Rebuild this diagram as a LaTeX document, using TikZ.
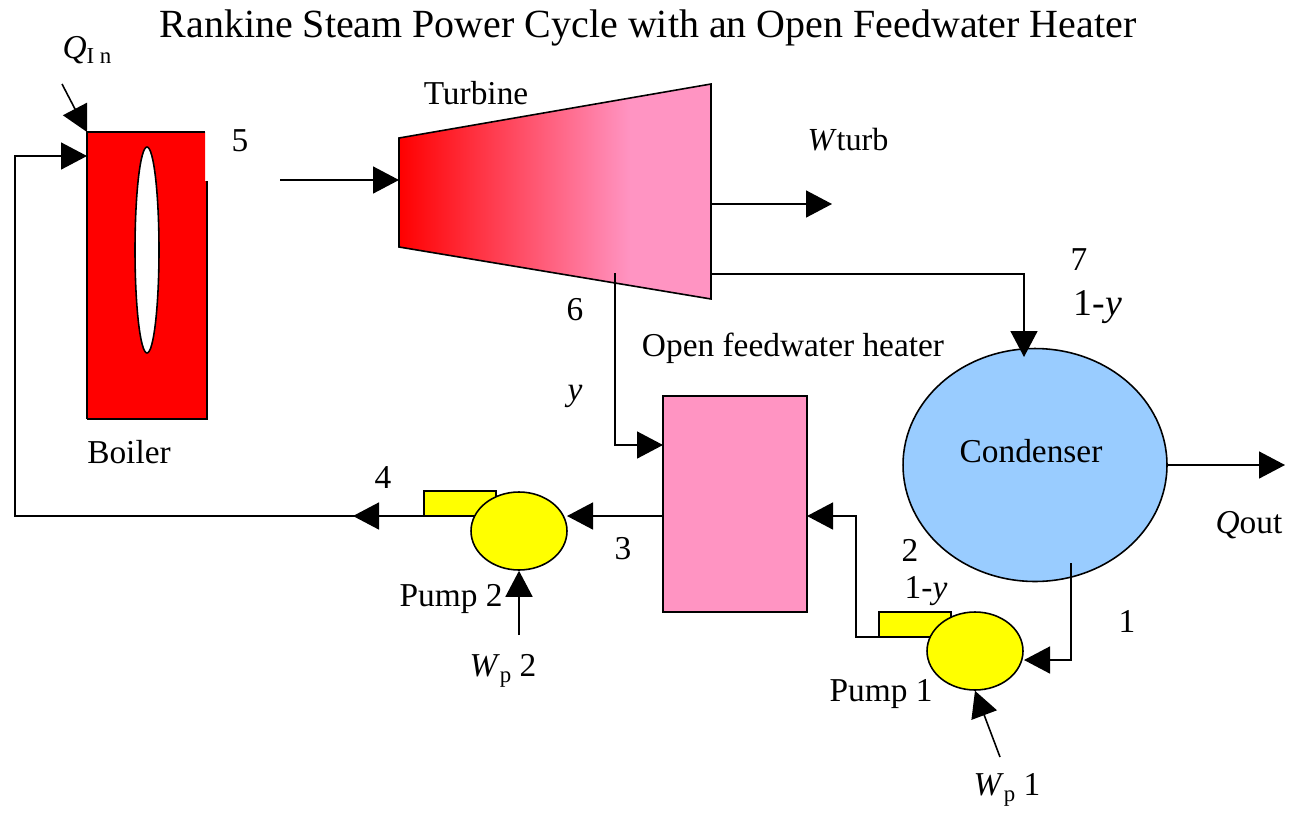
\documentclass[tikz,border=0pt]{standalone}
\usepackage{fontspec}
\setmainfont{Liberation Serif}
\usetikzlibrary{arrows.meta,shapes.geometric}
\definecolor{heaterpink}{RGB}{255,148,194}
\definecolor{condblue}{RGB}{153,204,255}
\definecolor{pumpyellow}{RGB}{255,255,0}
\definecolor{boilerred}{RGB}{255,0,0}
\pgfdeclarehorizontalshading{turbshade}{100bp}{color(0bp)=(boilerred); color(25bp)=(boilerred); color(62bp)=(heaterpink); color(100bp)=(heaterpink)}
\newcommand{\subsmall}[1]{\raisebox{-0.35ex}{\fontsize{13}{15}\selectfont #1}}
\tikzset{flow/.style={line width=0.9pt,-{Triangle[length=0.52cm,width=0.54cm]}},
	pipe/.style={line width=0.9pt},
	lab/.style={inner sep=0pt,font=\fontsize{19}{21}\selectfont},
	nozzle/.style={draw,fill=pumpyellow,line width=0.9pt,minimum width=1.44cm,minimum height=0.5cm,inner sep=0pt,outer sep=0pt},
	pump/.style={ellipse,draw,fill=pumpyellow,line width=0.9pt,minimum width=1.92cm,minimum height=1.56cm,inner sep=0pt}}

\begin{document}
\begin{tikzpicture}[x=0.02cm,y=-0.02cm]
	\useasboundingbox (0,0) rectangle (1291,812);
	\coordinate (qin) at (62,84);
	\coordinate (boilertl) at (87,132);
	\coordinate (boilerin) at (87,156);
	\coordinate (corner4) at (15,516);
	\coordinate (corner4b) at (15,156);
	\coordinate (steam) at (280,180);
	\coordinate (turbin) at (399,180);
	\coordinate (a) at (399,138);
	\coordinate (b) at (711,84);
	\coordinate (c) at (711,299);
	\coordinate (d) at (399,247);
	\coordinate (wstart) at (711,204);
	\coordinate (wend) at (832,204);
	\coordinate (ex7) at (711,274);
	\coordinate (ex6) at (615,273);
	% boiler
	\fill[boilerred] (87,132) rectangle (205,181) (87,181) rectangle (207,419);
	\draw[line width=0.9pt] (87,419) -- (87,132) -- (205,132);
	\draw[line width=0.9pt] (207,181) -- (207,419) -- (87,419);
	\node[ellipse,draw,fill=white,line width=0.9pt,minimum width=0.48cm,minimum height=4.12cm,inner sep=0pt] (slot) at (147,250) {};
	% turbine
	\path[shading=turbshade] (a) -- (b) -- (c) -- (d) -- cycle;
	\draw[line width=0.9pt] (a) -- (b) -- (c) -- (d) -- cycle;
	% heater, condenser, pumps
	\node[draw,fill=heaterpink,line width=0.9pt,minimum width=2.88cm,minimum height=4.32cm,inner sep=0pt] (heater) at (735,504) {};
	\node[ellipse,draw,fill=condblue,line width=0.9pt,minimum width=5.28cm,minimum height=4.66cm,inner sep=0pt] (cond) at (1035,465) {};
	\node[nozzle] (nozzle2) at (460,503.5) {};
	\node[pump] (pump2) at (519,531) {};
	\node[nozzle] (nozzle1) at (915,624.5) {};
	\node[pump] (pump1) at (975,651) {};
	\coordinate (wp2) at (519,635);
	\coordinate (wp1) at (1000,757);
	\coordinate (qout) at (1285,465);
	\coordinate (tip4) at (353,516);
	\coordinate (tail4) at (378,516);
	\coordinate (heatin) at (663,445);
	\coordinate (heatin2) at (807,516);
	\coordinate (heatout) at (663,516);
	\coordinate (pump2in) at (567,516);
	\coordinate (cond1) at (1071,563);
	\coordinate (pump1in) at (1024,660);
	\coordinate (cond7) at (1024,357);
	\draw[flow] (qin) -- (boilertl);
	\draw[pipe] (nozzle2.south west) -- (tail4);
	\draw[flow] (tail4) -- (tip4);
	\draw[flow] (tail4) -- (corner4) -- (corner4b) -- (boilerin);
	\draw[flow] (steam) -- (turbin);
	\draw[flow] (wstart) -- (wend);
	\draw[flow] (ex7) -| (cond7);
	\draw[flow] (ex6) |- (heatin);
	\draw[flow] (heatout) -- (pump2in);
	\draw[flow] (nozzle1.south west) -- ++(-23,0) |- (heatin2);
	\draw[flow] (cond1) |- (pump1in);
	\draw[flow] (cond.east) -- (qout);
	\draw[flow] (wp2) -- (pump2.south);
	\draw[flow] (wp1) -- (pump1.south);
	% texts
	\node[inner sep=0pt,font=\fontsize{22.75}{25}\selectfont] (title) at (648,28) {Rankine Steam Power Cycle with an Open Feedwater Heater};
	\node[lab] (qinlab) at (87,50) {\textit{Q}\subsmall{I n}};
	\node[lab] (turblab) at (476,93) {Turbine};
	\node[lab] (five) at (240,141) {5};
	\node[lab,font=\fontsize{18.3}{21}\selectfont] (wturb) at (848,140) {\textit{W}turb};
	\node[lab] (seven) at (1079,260) {7};
	\node[inner sep=0pt,font=\fontsize{21.5}{24}\selectfont] (oney) at (1098,307) {1-\textit{y}};
	\node[lab] (six) at (575,310) {6};
	\node[lab] (heatlab) at (793,348) {Open feedwater heater};
	\node[lab] (ylab) at (575,396) {\textit{y}};
	\node[lab] (boilerlab) at (129,452) {Boiler};
	\node[lab] (condlab) at (1031,451) {Condenser};
	\node[lab] (four) at (383,478) {4};
	\node[lab] (three) at (623,549) {3};
	\node[lab] (two) at (910,550) {2};
	\node[lab] (oneyb) at (926,591) {1-\textit{y}};
	\node[lab] (pump2lab) at (451,599) {Pump 2};
	\node[lab] (qoutlab) at (1249,525) {\textit{Q}out};
	\node[lab] (one) at (1127,621) {1};
	\node[lab] (wp2lab) at (503,671) {\textit{W}\subsmall{p} 2};
	\node[lab] (pump1lab) at (881,694) {Pump 1};
	\node[lab] (wp1lab) at (1007,790) {\textit{W}\subsmall{p} 1};
\end{tikzpicture}
\end{document}
